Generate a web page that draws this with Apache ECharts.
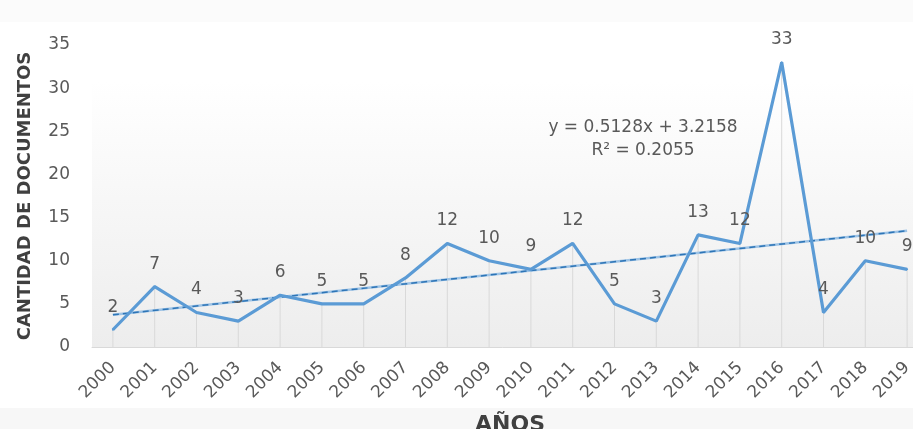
<!DOCTYPE html>
<html>
<head>
<meta charset="utf-8">
<script src="https://cdn.jsdelivr.net/npm/echarts@6/dist/echarts.min.js"></script>
<style>html,body{margin:0;padding:0;background:#fff;}#c{width:913px;height:429px;}</style>
</head>
<body>
<div id="c"></div>
<script>
var years = ['2000','2001','2002','2003','2004','2005','2006','2007','2008','2009','2010','2011','2012','2013','2014','2015','2016','2017','2018','2019'];
var documentos = [2,7,4,3,6,5,5,8,12,10,9,12,5,3,13,12,33,4,10,9];
var trendEnds = [3.73,null,null,null,null,null,null,null,null,null,null,null,null,null,null,null,null,null,null,13.47];
var yTicks = {min:0, max:35, interval:5};
var equationText = 'y = 0.5128x + 3.2158';
var r2Text = 'R² = 0.2055';

var chart = echarts.init(document.getElementById('c'));
var font = '"DejaVu Sans", sans-serif';
chart.setOption({
  animation:false,
  backgroundColor:'#ffffff',
  grid:{left:92, width:836, top:45, height:302, show:true, borderWidth:0, containLabel:false, outerBoundsMode:'none',
    backgroundColor:new echarts.graphic.LinearGradient(0,0,0,1,[{offset:0,color:'#ffffff'},{offset:0.12,color:'#ffffff'},{offset:1,color:'#ededed'}])},
  xAxis:{type:'category', data:years, boundaryGap:true,
    axisLine:{lineStyle:{color:'#d9d9d9'}}, axisTick:{show:false},
    axisLabel:{rotate:45, color:'#595959', fontSize:17, fontFamily:font, margin:18, interval:0}},
  yAxis:{type:'value', min:yTicks.min, max:yTicks.max, interval:yTicks.interval,
    name:'CANTIDAD DE DOCUMENTOS', nameLocation:'middle', nameRotate:90, nameGap:58,
    nameTextStyle:{fontFamily:font, fontWeight:'bold', fontSize:18, color:'#404040'},
    splitLine:{show:false}, axisLine:{show:false}, axisTick:{show:false},
    axisLabel:{color:'#595959', fontSize:17, fontFamily:font, margin:22}},
  graphic:[
    {type:'rect', shape:{x:0, y:0, width:913, height:22}, style:{fill:'#fbfbfb'}, z:-10, silent:true},
    {type:'rect', shape:{x:0, y:408, width:913, height:21}, style:{fill:'#f7f7f7'}, z:-10, silent:true},
    {type:'text', x:643, y:128, style:{text:equationText, fill:'#595959', font:'17px '+font, textAlign:'center', textVerticalAlign:'middle'}},
    {type:'text', x:643, y:151, style:{text:r2Text, fill:'#595959', font:'17px '+font, textAlign:'center', textVerticalAlign:'middle'}},
    {type:'text', x:510, y:414, style:{text:'AÑOS', fill:'#404040', font:'bold 22px '+font, textAlign:'center', textVerticalAlign:'top'}}
  ],
  series:[
    {type:'bar', data:documentos, barWidth:1, itemStyle:{color:'#d9d9d9'}, silent:true, z:1},
    {type:'line', data:trendEnds, connectNulls:true, symbol:'none', lineStyle:{color:'#9dc3e6', width:2.5}, z:2},
    {type:'line', data:trendEnds, connectNulls:true, symbol:'none', lineStyle:{color:'#2e75b6', width:1.5, type:[6,4]}, z:3},
    {type:'line', data:documentos, symbol:'circle', symbolSize:2, showSymbol:true, itemStyle:{color:'#5b9bd5'},
      lineStyle:{color:'#5b9bd5', width:3.2}, z:4,
      label:{show:true, position:'top', distance:13, color:'#595959', fontSize:17, fontFamily:font}}
  ]
});
</script>
</body>
</html>
